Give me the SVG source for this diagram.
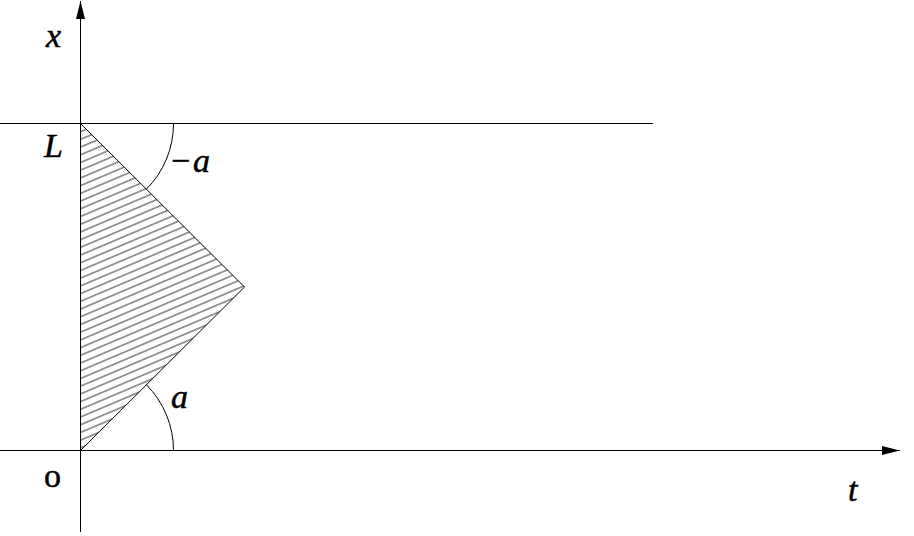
<svg xmlns="http://www.w3.org/2000/svg" width="914" height="536" viewBox="0 0 914 536">
<style>
.ln{stroke:#000;stroke-width:1;fill:none}
.lbl{font-family:"Liberation Serif","Times New Roman",serif;font-size:34px;fill:#000;stroke:#000;stroke-width:0.5}
.it{font-style:italic}
</style>
<defs>
<pattern id="hatch" patternUnits="userSpaceOnUse" width="40" height="7.1" patternTransform="rotate(-23)">
<line x1="0" y1="3.5" x2="40" y2="3.5" stroke="#222" stroke-width="1"/>
</pattern>
<marker id="arr" markerUnits="userSpaceOnUse" markerWidth="20" markerHeight="10" refX="18" refY="4.5" orient="auto">
<path d="M0,0 L18,4.5 L0,9 Z" fill="#000"/>
</marker>
</defs>
<g id="region">
<polygon points="80.5,123.5 244.5,287 80.5,450.5" fill="url(#hatch)" stroke="#000" stroke-width="1"/>
</g>
<g id="connectors">
<line class="ln" x1="80.5" y1="532" x2="80.5" y2="1" marker-end="url(#arr)"/>
<line class="ln" x1="0" y1="450.5" x2="900" y2="450.5" marker-end="url(#arr)"/>
<line class="ln" x1="0" y1="123.5" x2="653" y2="123.5"/>
<path class="ln" d="M173.5,123.5 A93,93 0 0 1 146.3,189.3"/>
<path class="ln" d="M173.5,450.5 A93,93 0 0 0 146.3,384.7"/>
</g>
<g id="labels">
<text class="lbl it" x="46" y="47">x</text>
<text class="lbl it" x="44" y="157">L</text>
<text class="lbl" x="44" y="487">o</text>
<text class="lbl it" x="848" y="501">t</text>
<text class="lbl" x="171" y="172">−<tspan class="it" x="193">a</tspan></text>
<text class="lbl it" x="171" y="408">a</text>
</g>
</svg>
